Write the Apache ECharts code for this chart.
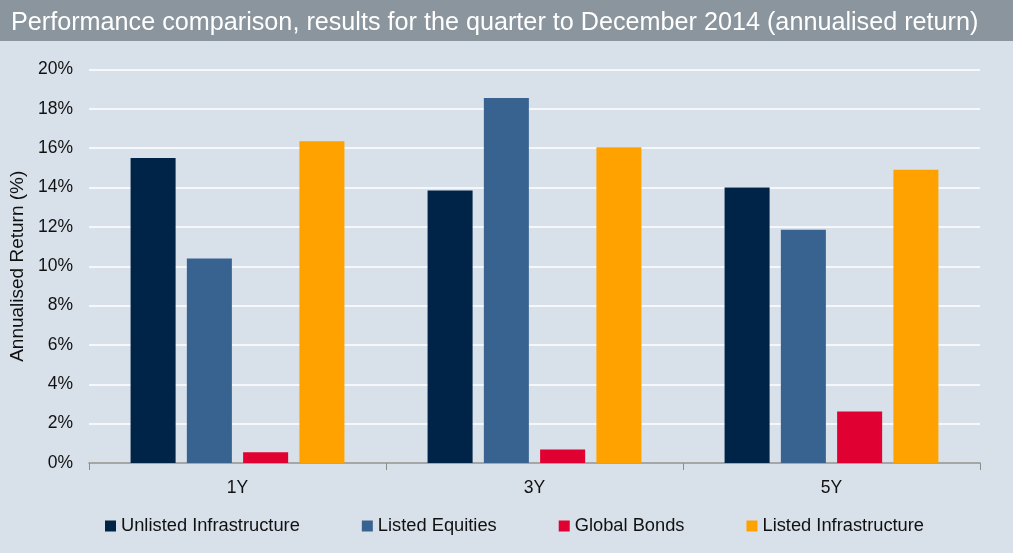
<!DOCTYPE html>
<html><head><meta charset="utf-8">
<script src="https://cdn.jsdelivr.net/npm/echarts@6/dist/echarts.min.js"></script>
<style>html,body{margin:0;padding:0;background:#d8e0e9;}#c{width:1013px;height:553px;}</style>
</head><body><div id="c"></div>
<script>
const titleText = 'Performance comparison, results for the quarter to December 2014 (annualised return)';
const categories = ['1Y', '3Y', '5Y'];
const seriesNames = ['Unlisted Infrastructure', 'Listed Equities', 'Global Bonds', 'Listed Infrastructure'];
const unlistedInfra = [15.5, 13.85, 14.0];
const listedEquities = [10.4, 18.55, 11.85];
const globalBonds = [0.55, 0.68, 2.62];
const listedInfra = [16.35, 16.05, 14.9];
const colors = ['#002448', '#386391', '#e10032', '#ffa200'];

const chart = echarts.init(document.getElementById('c'), null, {renderer: 'canvas'});
const font = 'Liberation Sans, Arial, sans-serif';
const data = [unlistedInfra, listedEquities, globalBonds, listedInfra];
chart.setOption({
  backgroundColor: '#d8e0e9',
  textStyle: {fontFamily: font},
  graphic: [{type: 'rect', left: 0, top: 0, shape: {width: 1013, height: 41}, style: {fill: '#8a959e'}, z: -1}],
  title: {text: titleText, left: 6, top: 6, textStyle: {color: '#ffffff', fontSize: 25.2, fontWeight: 'normal', fontFamily: font}},
  grid: {left: 89, right: 33, top: 69.5, bottom: 90},
  legend: {
    top: 512, left: 100, itemWidth: 11, itemHeight: 11, itemGap: 62,
    icon: 'rect', textStyle: {fontSize: 18.3, color: '#111', fontFamily: font},
    data: seriesNames
  },
  xAxis: {
    type: 'category', data: categories,
    axisLine: {lineStyle: {color: '#8c8c8c', width: 1.5}},
    axisTick: {show: true, length: 7, lineStyle: {color: '#8c8c8c'}},
    axisLabel: {fontSize: 17.5, color: '#111', margin: 16, fontFamily: font}
  },
  yAxis: {
    type: 'value', min: 0, max: 20, interval: 2,
    name: 'Annualised Return (%)', nameLocation: 'middle', nameGap: 60, nameRotate: 90,
    nameTextStyle: {fontSize: 19, color: '#111', fontFamily: font},
    axisLabel: {formatter: '{value}%', fontSize: 17.5, color: '#111', margin: 16, fontFamily: font},
    axisLine: {show: false}, axisTick: {show: false},
    splitLine: {lineStyle: {color: '#ffffff', width: 1.5}}
  },
  series: seriesNames.map((n, i) => ({
    name: n, type: 'bar', data: data[i],
    barCategoryGap: '28%', barGap: '25%',
    itemStyle: {color: colors[i]}
  }))
});
</script></body></html>
